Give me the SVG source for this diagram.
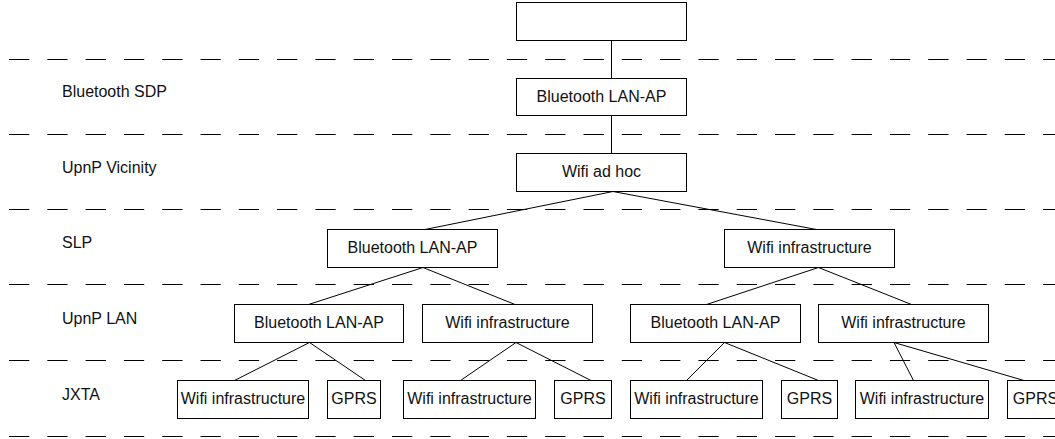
<svg xmlns="http://www.w3.org/2000/svg" width="1055" height="439" viewBox="0 0 1055 439">
<style>
.bg{fill:#fff}
.sep{stroke:#000;stroke-width:1;stroke-dasharray:20.3 18;fill:none}
.box{fill:#fff;stroke:#000;stroke-width:1}
.edge{stroke:#000;stroke-width:1;fill:none}
text{font-family:"Liberation Sans",Arial,sans-serif;font-size:16px;fill:#111}
.c{text-anchor:middle}
</style>
<rect class="bg" x="0" y="0" width="1055" height="439"/>
<g id="separators">
<line class="sep" x1="9" y1="59.5" x2="1055" y2="59.5"/>
<line class="sep" x1="9" y1="134.5" x2="1055" y2="134.5"/>
<line class="sep" x1="9" y1="209.5" x2="1055" y2="209.5"/>
<line class="sep" x1="9" y1="284.5" x2="1055" y2="284.5"/>
<line class="sep" x1="9" y1="360.5" x2="1055" y2="360.5"/>
<line class="sep" x1="9" y1="436.5" x2="1055" y2="436.5"/>
</g>
<g id="layer-labels">
<text x="62" y="97">Bluetooth SDP</text>
<text x="62" y="172.5">UpnP Vicinity</text>
<text x="62" y="247.5">SLP</text>
<text x="62" y="323.5">UpnP LAN</text>
<text x="62" y="399.5">JXTA</text>
</g>
<g id="connectors">
<line class="edge" x1="611.5" y1="40.5" x2="611.5" y2="78.5"/>
<line class="edge" x1="611.5" y1="115.5" x2="611.5" y2="153.5"/>
<line class="edge" x1="613" y1="191.5" x2="425" y2="229.5"/>
<line class="edge" x1="613" y1="191.5" x2="816.5" y2="229.5"/>
<line class="edge" x1="423" y1="267.5" x2="308.5" y2="304.5"/>
<line class="edge" x1="423" y1="267.5" x2="515" y2="304.5"/>
<line class="edge" x1="818.5" y1="267.5" x2="706.5" y2="304.5"/>
<line class="edge" x1="818.5" y1="267.5" x2="911.5" y2="304.5"/>
<line class="edge" x1="309.5" y1="342.5" x2="234.5" y2="380.5"/>
<line class="edge" x1="309.5" y1="342.5" x2="365.5" y2="380.5"/>
<line class="edge" x1="516" y1="342.5" x2="460.5" y2="380.5"/>
<line class="edge" x1="516" y1="342.5" x2="591" y2="380.5"/>
<line class="edge" x1="724.5" y1="342.5" x2="686.5" y2="380.5"/>
<line class="edge" x1="724.5" y1="342.5" x2="818.5" y2="380.5"/>
<line class="edge" x1="894" y1="342.5" x2="913.5" y2="380.5"/>
<line class="edge" x1="894" y1="342.5" x2="1024" y2="380.5"/>
</g>
<g id="n-root"><rect class="box" x="516.5" y="2.5" width="170" height="38"/></g>
<g id="n-l1"><rect class="box" x="516.5" y="78.5" width="170" height="37"/><text class="c" x="601.5" y="102">Bluetooth LAN-AP</text></g>
<g id="n-l2"><rect class="box" x="516.5" y="153.5" width="170" height="38"/><text class="c" x="601.5" y="177">Wifi ad hoc</text></g>
<g id="n-l3a"><rect class="box" x="327.5" y="229.5" width="170" height="38"/><text class="c" x="412.5" y="253">Bluetooth LAN-AP</text></g>
<g id="n-l3b"><rect class="box" x="724.5" y="229.5" width="170" height="38"/><text class="c" x="809.5" y="253">Wifi infrastructure</text></g>
<g id="n-l4a"><rect class="box" x="234.5" y="304.5" width="169" height="38"/><text class="c" x="319" y="328">Bluetooth LAN-AP</text></g>
<g id="n-l4b"><rect class="box" x="422.5" y="304.5" width="170" height="38"/><text class="c" x="507.5" y="328">Wifi infrastructure</text></g>
<g id="n-l4c"><rect class="box" x="630.5" y="304.5" width="170" height="38"/><text class="c" x="715.5" y="328">Bluetooth LAN-AP</text></g>
<g id="n-l4d"><rect class="box" x="818.5" y="304.5" width="170" height="38"/><text class="c" x="903.5" y="328">Wifi infrastructure</text></g>
<g id="n-l5a"><rect class="box" x="177.5" y="380.5" width="131" height="38"/><text class="c" x="243" y="404">Wifi infrastructure</text></g>
<g id="n-l5b"><rect class="box" x="327.5" y="380.5" width="53" height="38"/><text class="c" x="354" y="404">GPRS</text></g>
<g id="n-l5c"><rect class="box" x="403.5" y="380.5" width="132" height="38"/><text class="c" x="469.5" y="404">Wifi infrastructure</text></g>
<g id="n-l5d"><rect class="box" x="554.5" y="380.5" width="57" height="38"/><text class="c" x="583" y="404">GPRS</text></g>
<g id="n-l5e"><rect class="box" x="630.5" y="380.5" width="132" height="38"/><text class="c" x="696.5" y="404">Wifi infrastructure</text></g>
<g id="n-l5f"><rect class="box" x="781.5" y="380.5" width="56" height="38"/><text class="c" x="809.5" y="404">GPRS</text></g>
<g id="n-l5g"><rect class="box" x="855.5" y="380.5" width="133" height="38"/><text class="c" x="922" y="404">Wifi infrastructure</text></g>
<g id="n-l5h"><rect class="box" x="1007.5" y="380.5" width="56" height="38"/><text class="c" x="1035.5" y="404">GPRS</text></g>
</svg>
